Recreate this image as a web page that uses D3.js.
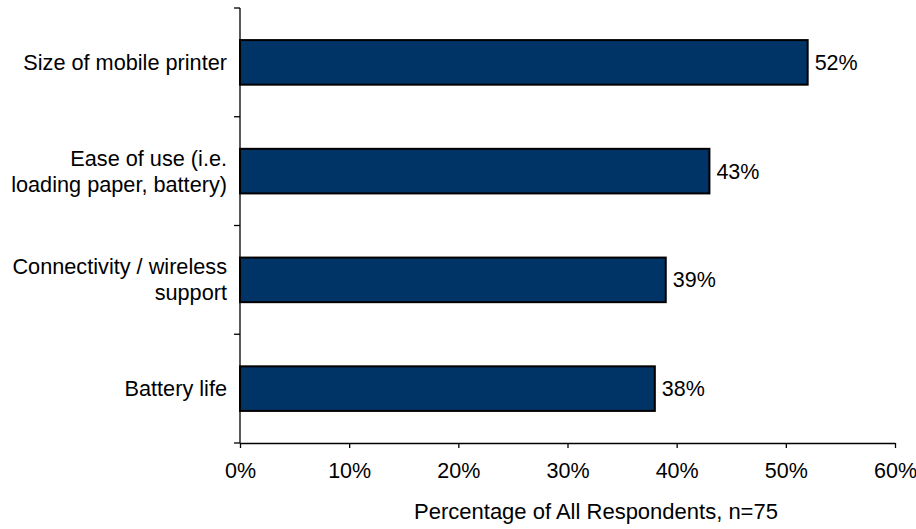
<!DOCTYPE html>
<html>
<head>
<meta charset="utf-8">
<script src="https://cdn.jsdelivr.net/npm/d3@7"></script>
<style>
  body { margin: 0; background: #fff; }
  text { font-family: "Liberation Sans", Arial, sans-serif; fill: #000; }
</style>
</head>
<body>
<div id="chart"></div>
<script>
// chart data
const categories = ['Size of mobile printer', 'Ease of use (i.e. loading paper, battery)', 'Connectivity / wireless support', 'Battery life'];
const labelLines = [['Size of mobile printer'], ['Ease of use (i.e.', 'loading paper, battery)'], ['Connectivity / wireless', 'support'], ['Battery life']];
const values = [52, 43, 39, 38];
const xTicks = [0, 10, 20, 30, 40, 50, 60];
const axisTitle = 'Percentage of All Respondents, n=75';

const width = 916, height = 529;
const margin = {top: 8, right: 21, bottom: 86, left: 240};

let svg = d3.select('#chart').append('svg')
    .attr('width', width)
    .attr('height', height);

//scales
let xScale = d3.scaleLinear()
    .domain([0, 60])
    .range([margin.left, width - margin.right]);

let yScale = d3.scaleBand()
    .domain(categories)
    .range([margin.top, height - margin.bottom])
    .paddingInner(0.59)
    .paddingOuter(0.295);

let bandStep = yScale.step();

//y axis: line with tick marks at band boundaries
let yTicks = d3.range(categories.length + 1).map((i) => margin.top + i * bandStep);
svg.append('line')
    .attr('x1', margin.left).attr('x2', margin.left)
    .attr('y1', margin.top).attr('y2', height - margin.bottom)
    .attr('stroke', '#000').attr('stroke-width', 1.3);
svg.selectAll('.ytick')
    .data(yTicks)
    .enter().append('line')
    .attr('class', 'ytick')
    .attr('x1', margin.left - 6).attr('x2', margin.left)
    .attr('y1', (d) => d).attr('y2', (d) => d)
    .attr('stroke', '#000').attr('stroke-width', 1.3);

//x axis
let xAxis = d3.axisBottom(xScale)
    .tickValues(xTicks)
    .tickFormat((d) => d + '%')
    .tickSizeInner(5)
    .tickSizeOuter(0)
    .tickPadding(15);
let gx = svg.append('g')
    .attr('transform', `translate(0, ${height - margin.bottom})`)
    .call(xAxis);
gx.select('.domain').attr('stroke', '#000').attr('stroke-width', 1.3);
gx.selectAll('.tick line').attr('stroke', '#000').attr('stroke-width', 1.3);
gx.selectAll('.tick text')
    .style('font-size', '21.5px')
    .style('font-family', '"Liberation Sans", Arial, sans-serif')
    .attr('fill', '#000');

//axis title
svg.append('text')
    .text(axisTitle)
    .attr('x', 596)
    .attr('y', 519)
    .attr('text-anchor', 'middle')
    .style('font-size', '22px');

//bars
svg.selectAll('.bar')
    .data(values)
    .enter().append('rect')
    .attr('class', 'bar')
    .attr('x', xScale(0))
    .attr('y', (d, i) => yScale(categories[i]))
    .attr('width', (d) => xScale(d) - xScale(0))
    .attr('height', yScale.bandwidth())
    .attr('fill', '#003366')
    .attr('stroke', '#000')
    .attr('stroke-width', 2);

//value labels
svg.selectAll('.value')
    .data(values)
    .enter().append('text')
    .attr('class', 'value')
    .text((d) => d + '%')
    .attr('x', (d) => xScale(d) + 7)
    .attr('y', (d, i) => yScale(categories[i]) + yScale.bandwidth() / 2)
    .attr('dy', '0.35em')
    .style('font-size', '21.5px');

//category labels
let cat = svg.selectAll('.cat')
    .data(labelLines)
    .enter().append('text')
    .attr('class', 'cat')
    .attr('text-anchor', 'end')
    .style('font-size', '21.7px');
cat.each(function(lines, i) {
    let cy = yScale(categories[i]) + yScale.bandwidth() / 2;
    let lh = 26;
    let start = cy - (lines.length - 1) * lh / 2;
    d3.select(this).selectAll('tspan')
        .data(lines)
        .enter().append('tspan')
        .attr('x', margin.left - 13)
        .attr('y', (d, j) => start + j * lh)
        .attr('dy', '0.35em')
        .text((d) => d);
});
</script>
</body>
</html>
